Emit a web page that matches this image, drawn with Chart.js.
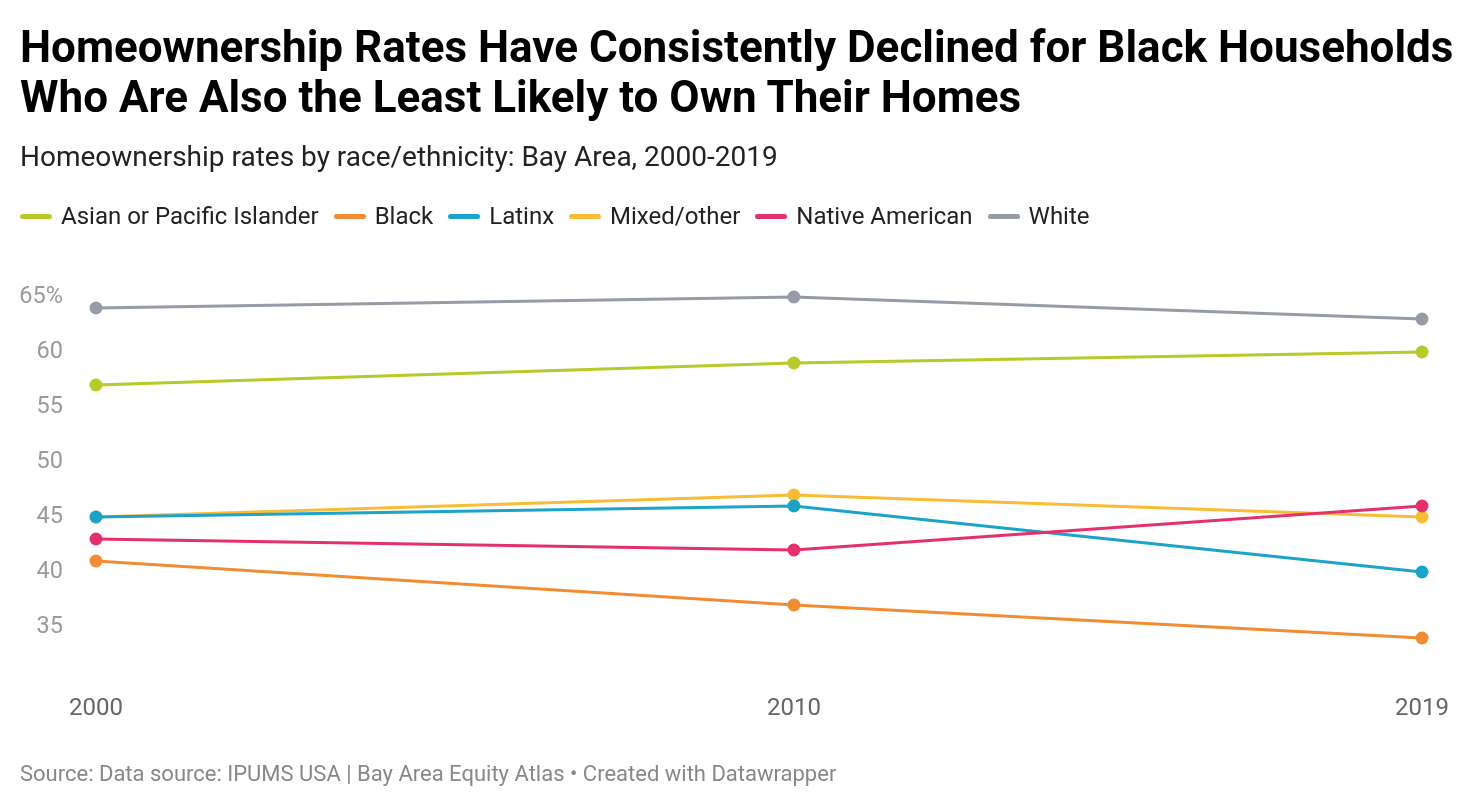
<!DOCTYPE html>
<html>
<head>
<meta charset="utf-8">
<script src="https://cdn.jsdelivr.net/npm/chart.js@4"></script>
<style>
  html,body{margin:0;padding:0;background:#fff;width:1474px;height:808px;overflow:hidden;font-family:Roboto,"Noto Sans",sans-serif;}
  #title{position:absolute;left:20px;top:22px;font-size:44px;font-weight:700;line-height:50px;color:#000;white-space:nowrap;}
  #subtitle{position:absolute;left:20px;top:140px;font-size:28px;line-height:33px;color:#222;white-space:nowrap;}
  #legend{position:absolute;left:20px;top:202px;font-size:24px;line-height:28px;color:#222;display:flex;white-space:nowrap;}
  .li{display:flex;align-items:center;margin-right:15px;}
  .sw{width:32px;height:5px;border-radius:2.5px;margin-right:9px;}
  #footer{position:absolute;left:20px;top:761px;font-size:22px;line-height:26px;color:#888;white-space:nowrap;}
  #wrap{position:absolute;left:0;top:0;width:1474px;height:808px;}
</style>
</head>
<body>
<div id="wrap"><canvas id="c" width="1474" height="808"></canvas></div>
<div id="title">Homeownership Rates Have Consistently Declined for Black Households<br>Who Are Also the Least Likely to Own Their Homes</div>
<div id="subtitle">Homeownership rates by race/ethnicity: Bay Area, 2000-2019</div>
<div id="legend"></div>
<div id="footer">Source: Data source: IPUMS USA | Bay Area Equity Atlas • Created with Datawrapper</div>
<script>
const years = [2000, 2010, 2019];
const seriesNames = ["Asian or Pacific Islander", "Black", "Latinx", "Mixed/other", "Native American", "White"];
const asian = [57, 59, 60];
const black = [41, 37, 34];
const latinx = [45, 46, 40];
const mixed = [45, 47, 45];
const native = [43, 42, 46];
const white = [64, 65, 63];
const yTicks = [35, 40, 45, 50, 55, 60, 65];

const colors = ["#b8c92a", "#f28c33", "#1ca3c9", "#f9bc35", "#e5306f", "#959ca5"];
const orders = [1, 1, 1, 5, 0, 1];
const values = [asian, black, latinx, mixed, native, white];

const datasets = seriesNames.map((n, i) => ({
  label: n,
  data: years.map((y, j) => ({x: y, y: values[i][j]})),
  borderColor: colors[i],
  backgroundColor: colors[i],
  borderWidth: 3.2,
  pointRadius: 6.5,
  pointHoverRadius: 6.5,
  pointBorderWidth: 0,
  order: orders[i],
  clip: false,
  tension: 0
}));

const lg = document.getElementById('legend');
seriesNames.forEach((n, i) => {
  const d = document.createElement('div'); d.className = 'li';
  d.innerHTML = '<span class="sw" style="background:' + colors[i] + '"></span><span>' + n + '</span>';
  lg.appendChild(d);
});

new Chart(document.getElementById('c'), {
  type: 'line',
  data: {datasets},
  options: {
    responsive: false,
    animation: false,
    events: [],
    layout: {padding: {top: 297, right: 52, bottom: 76, left: 0}},
    plugins: {legend: {display: false}, tooltip: {enabled: false}},
    scales: {
      x: {
        type: 'linear', min: 2000, max: 2019,
        afterBuildTicks: s => { s.ticks = years.map(v => ({value: v})); },
        afterFit: s => { s.height = 50; },
        grid: {display: false, drawTicks: false},
        border: {display: false},
        ticks: {color: '#666', font: {family: 'Roboto', size: 24}, padding: 13, maxRotation: 0, autoSkip: false, callback: v => String(v)}
      },
      y: {
        min: 30, max: 65,
        afterBuildTicks: s => { s.ticks = yTicks.map(v => ({value: v})); },
        afterFit: s => { s.width = 96; },
        grid: {display: false, drawTicks: false},
        border: {display: false},
        ticks: {color: '#9a9a9a', font: {family: 'Roboto', size: 23.5}, padding: 33, callback: v => v === 65 ? '65%' : String(v)}
      }
    }
  }
});
</script>
</body>
</html>
